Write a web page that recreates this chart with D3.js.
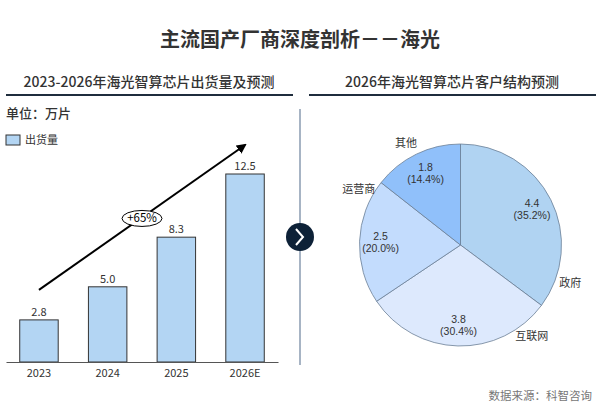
<!DOCTYPE html>
<html>
<head>
<meta charset="utf-8">
<script src="https://cdn.jsdelivr.net/npm/d3@7"></script>
<style>
  body { margin: 0; background: white; }
  text { font-family: "Noto Sans CJK SC", "Noto Sans", sans-serif; }
</style>
</head>
<body>
<svg id="plot"></svg>
<script>
// Data
const years = ['2023', '2024', '2025', '2026E'];
const shipments = [2.8, 5.0, 8.3, 12.5];
const customers = ['政府', '互联网', '运营商', '其他'];
const customerValues = [4.4, 3.8, 2.5, 1.8];
const customerShares = [35.2, 30.4, 20.0, 14.4];
const growthLabel = '+65%';

let width = 600, height = 410;

let svg = d3.select('#plot')
  .attr('width', width)
  .attr('height', height)
  .style('background', 'white');

// Titles
svg.append('text')
  .attr('x', 300).attr('y', 47)
  .attr('text-anchor', 'middle')
  .style('font-size', '20px').style('font-weight', 'bold')
  .attr('fill', '#333')
  .text('主流国产厂商深度剖析－－海光');

svg.append('text')
  .attr('x', 149).attr('y', 87)
  .attr('text-anchor', 'middle')
  .style('font-size', '14px').style('font-weight', 500)
  .attr('fill', '#333')
  .text('2023-2026年海光智算芯片出货量及预测');

svg.append('text')
  .attr('x', 452).attr('y', 87)
  .attr('text-anchor', 'middle')
  .style('font-size', '14px').style('font-weight', 500)
  .attr('fill', '#333')
  .text('2026年海光智算芯片客户结构预测');

svg.append('line').attr('x1', 6).attr('x2', 293).attr('y1', 95).attr('y2', 95)
  .attr('stroke', '#1f2d3d').attr('stroke-width', 2);
svg.append('line').attr('x1', 309).attr('x2', 596).attr('y1', 95).attr('y2', 95)
  .attr('stroke', '#1f2d3d').attr('stroke-width', 2);

// Left: bar chart
let margin = { left: 6, right: 277, bottom: 362 };

svg.append('text')
  .attr('x', 6).attr('y', 118)
  .style('font-size', '13px').style('font-weight', 500)
  .attr('fill', '#333')
  .text('单位：万片');

svg.append('rect')
  .attr('x', 6).attr('y', 135).attr('width', 14).attr('height', 10)
  .attr('fill', '#b3d5f3').attr('stroke', '#333').attr('stroke-width', 1);
svg.append('text')
  .attr('x', 25).attr('y', 144)
  .style('font-size', '11px').attr('fill', '#333')
  .text('出货量');

let xScale = d3.scaleBand()
  .domain(years)
  .range([6, 278])
  .paddingInner(0.44)
  .paddingOuter(0.2);

let yScale = d3.scaleLinear()
  .domain([0, 12.5])
  .range([margin.bottom, 174]);

svg.selectAll('.bar')
  .data(shipments)
  .enter()
  .append('rect')
  .attr('class', 'bar')
  .attr('x', (d, i) => xScale(years[i]))
  .attr('y', d => yScale(d))
  .attr('width', xScale.bandwidth())
  .attr('height', d => yScale(0) - yScale(d))
  .attr('fill', '#b3d5f3')
  .attr('stroke', '#333')
  .attr('stroke-width', 1);

svg.selectAll('.barlabel')
  .data(shipments)
  .enter()
  .append('text')
  .attr('class', 'barlabel')
  .attr('x', (d, i) => xScale(years[i]) + xScale.bandwidth() / 2)
  .attr('y', d => yScale(d) - 4)
  .attr('text-anchor', 'middle')
  .style('font-size', '11px').attr('fill', '#333')
  .text(d => d.toFixed(1));

let xAxis = svg.append('g')
  .attr('transform', `translate(0, ${margin.bottom})`)
  .call(d3.axisBottom(xScale).tickSize(0).tickPadding(7));
xAxis.select('.domain').attr('stroke', '#555').attr('stroke-width', 1.2);
xAxis.selectAll('text')
  .style('font-size', '11px').attr('fill', '#333')
  .style('font-family', '"Noto Sans CJK SC", sans-serif');

// growth arrow
let defs = svg.append('defs');
defs.append('marker')
  .attr('id', 'arrow')
  .attr('viewBox', '0 0 10 10')
  .attr('refX', 8).attr('refY', 5)
  .attr('markerWidth', 5).attr('markerHeight', 5)
  .attr('orient', 'auto')
  .append('path')
  .attr('d', 'M0,0 L10,5 L0,10 z')
  .attr('fill', '#000');

let a0 = [xScale(years[0]) + xScale.bandwidth() / 2, yScale(shipments[0]) - 30];
let a1 = [xScale(years[3]) + xScale.bandwidth() / 2, yScale(shipments[3]) - 29];
svg.append('line')
  .attr('x1', a0[0]).attr('y1', a0[1])
  .attr('x2', a1[0]).attr('y2', a1[1])
  .attr('stroke', '#000').attr('stroke-width', 2)
  .attr('marker-end', 'url(#arrow)');

let ex = a0[0] + (a1[0] - a0[0]) * 0.5, ey = a0[1] + (a1[1] - a0[1]) * 0.5 + 1;
svg.append('ellipse')
  .attr('cx', ex).attr('cy', ey)
  .attr('rx', 20).attr('ry', 8)
  .attr('fill', 'white').attr('stroke', '#000').attr('stroke-width', 1);
svg.append('text')
  .attr('x', ex).attr('y', ey + 4)
  .attr('text-anchor', 'middle')
  .style('font-size', '11.5px').attr('fill', '#000')
  .text(growthLabel);

// divider
svg.append('line')
  .attr('x1', 300).attr('x2', 300).attr('y1', 109).attr('y2', 365)
  .attr('stroke', '#8a9bb0').attr('stroke-width', 1.5);
svg.append('circle')
  .attr('cx', 300).attr('cy', 237).attr('r', 14)
  .attr('fill', '#0d2137');
svg.append('path')
  .attr('d', 'M296,229 L303,237 L296,245')
  .attr('fill', 'none').attr('stroke', 'white').attr('stroke-width', 2);

// Right: pie chart
const pieColors = ['#b0d3f2', '#dde9fd', '#c3dcfd', '#90c0fa'];
const outerLabelPos = [0.86, 0.14, 0.87, 0.46];
let cx = 460.5, cy = 245, radius = 101;

let pie = d3.pie().sort(null)(customerValues);
let arc = d3.arc().innerRadius(0).outerRadius(radius);

let g = svg.append('g').attr('transform', `translate(${cx}, ${cy})`);

g.selectAll('.slice')
  .data(pie)
  .enter()
  .append('path')
  .attr('class', 'slice')
  .attr('d', arc)
  .attr('fill', (d, i) => pieColors[i])
  .attr('stroke', '#6b7f95')
  .attr('stroke-width', 0.8);

// value and share labels inside the slices
let inner = d3.arc().innerRadius(80).outerRadius(80);
pie.forEach(function(d, i) {
  let c = inner.centroid(d);
  g.append('text')
    .attr('x', c[0]).attr('y', c[1] - 2)
    .attr('text-anchor', 'middle')
    .style('font-family', '"Liberation Sans", sans-serif')
    .style('font-size', '10.5px').attr('fill', '#333')
    .text(customerValues[i].toFixed(1));
  g.append('text')
    .attr('x', c[0]).attr('y', c[1] + 10)
    .attr('text-anchor', 'middle')
    .style('font-family', '"Liberation Sans", sans-serif')
    .style('font-size', '10.5px').attr('fill', '#333')
    .text('(' + customerShares[i].toFixed(1) + '%)');
});

g.selectAll('.outlabel')
  .data(pie)
  .enter()
  .append('text')
  .attr('class', 'outlabel')
  .attr('x', (d, i) => {
    let a = d.startAngle + (d.endAngle - d.startAngle) * outerLabelPos[i];
    return Math.sin(a) * 116;
  })
  .attr('y', (d, i) => {
    let a = d.startAngle + (d.endAngle - d.startAngle) * outerLabelPos[i];
    return -Math.cos(a) * 116 + 4;
  })
  .attr('text-anchor', 'middle')
  .style('font-size', '11px').attr('fill', '#333')
  .text((d, i) => customers[i]);

// source
svg.append('text')
  .attr('x', 592).attr('y', 400)
  .attr('text-anchor', 'end')
  .style('font-size', '11.5px').attr('fill', '#777')
  .text('数据来源：科智咨询');
</script>
</body>
</html>
